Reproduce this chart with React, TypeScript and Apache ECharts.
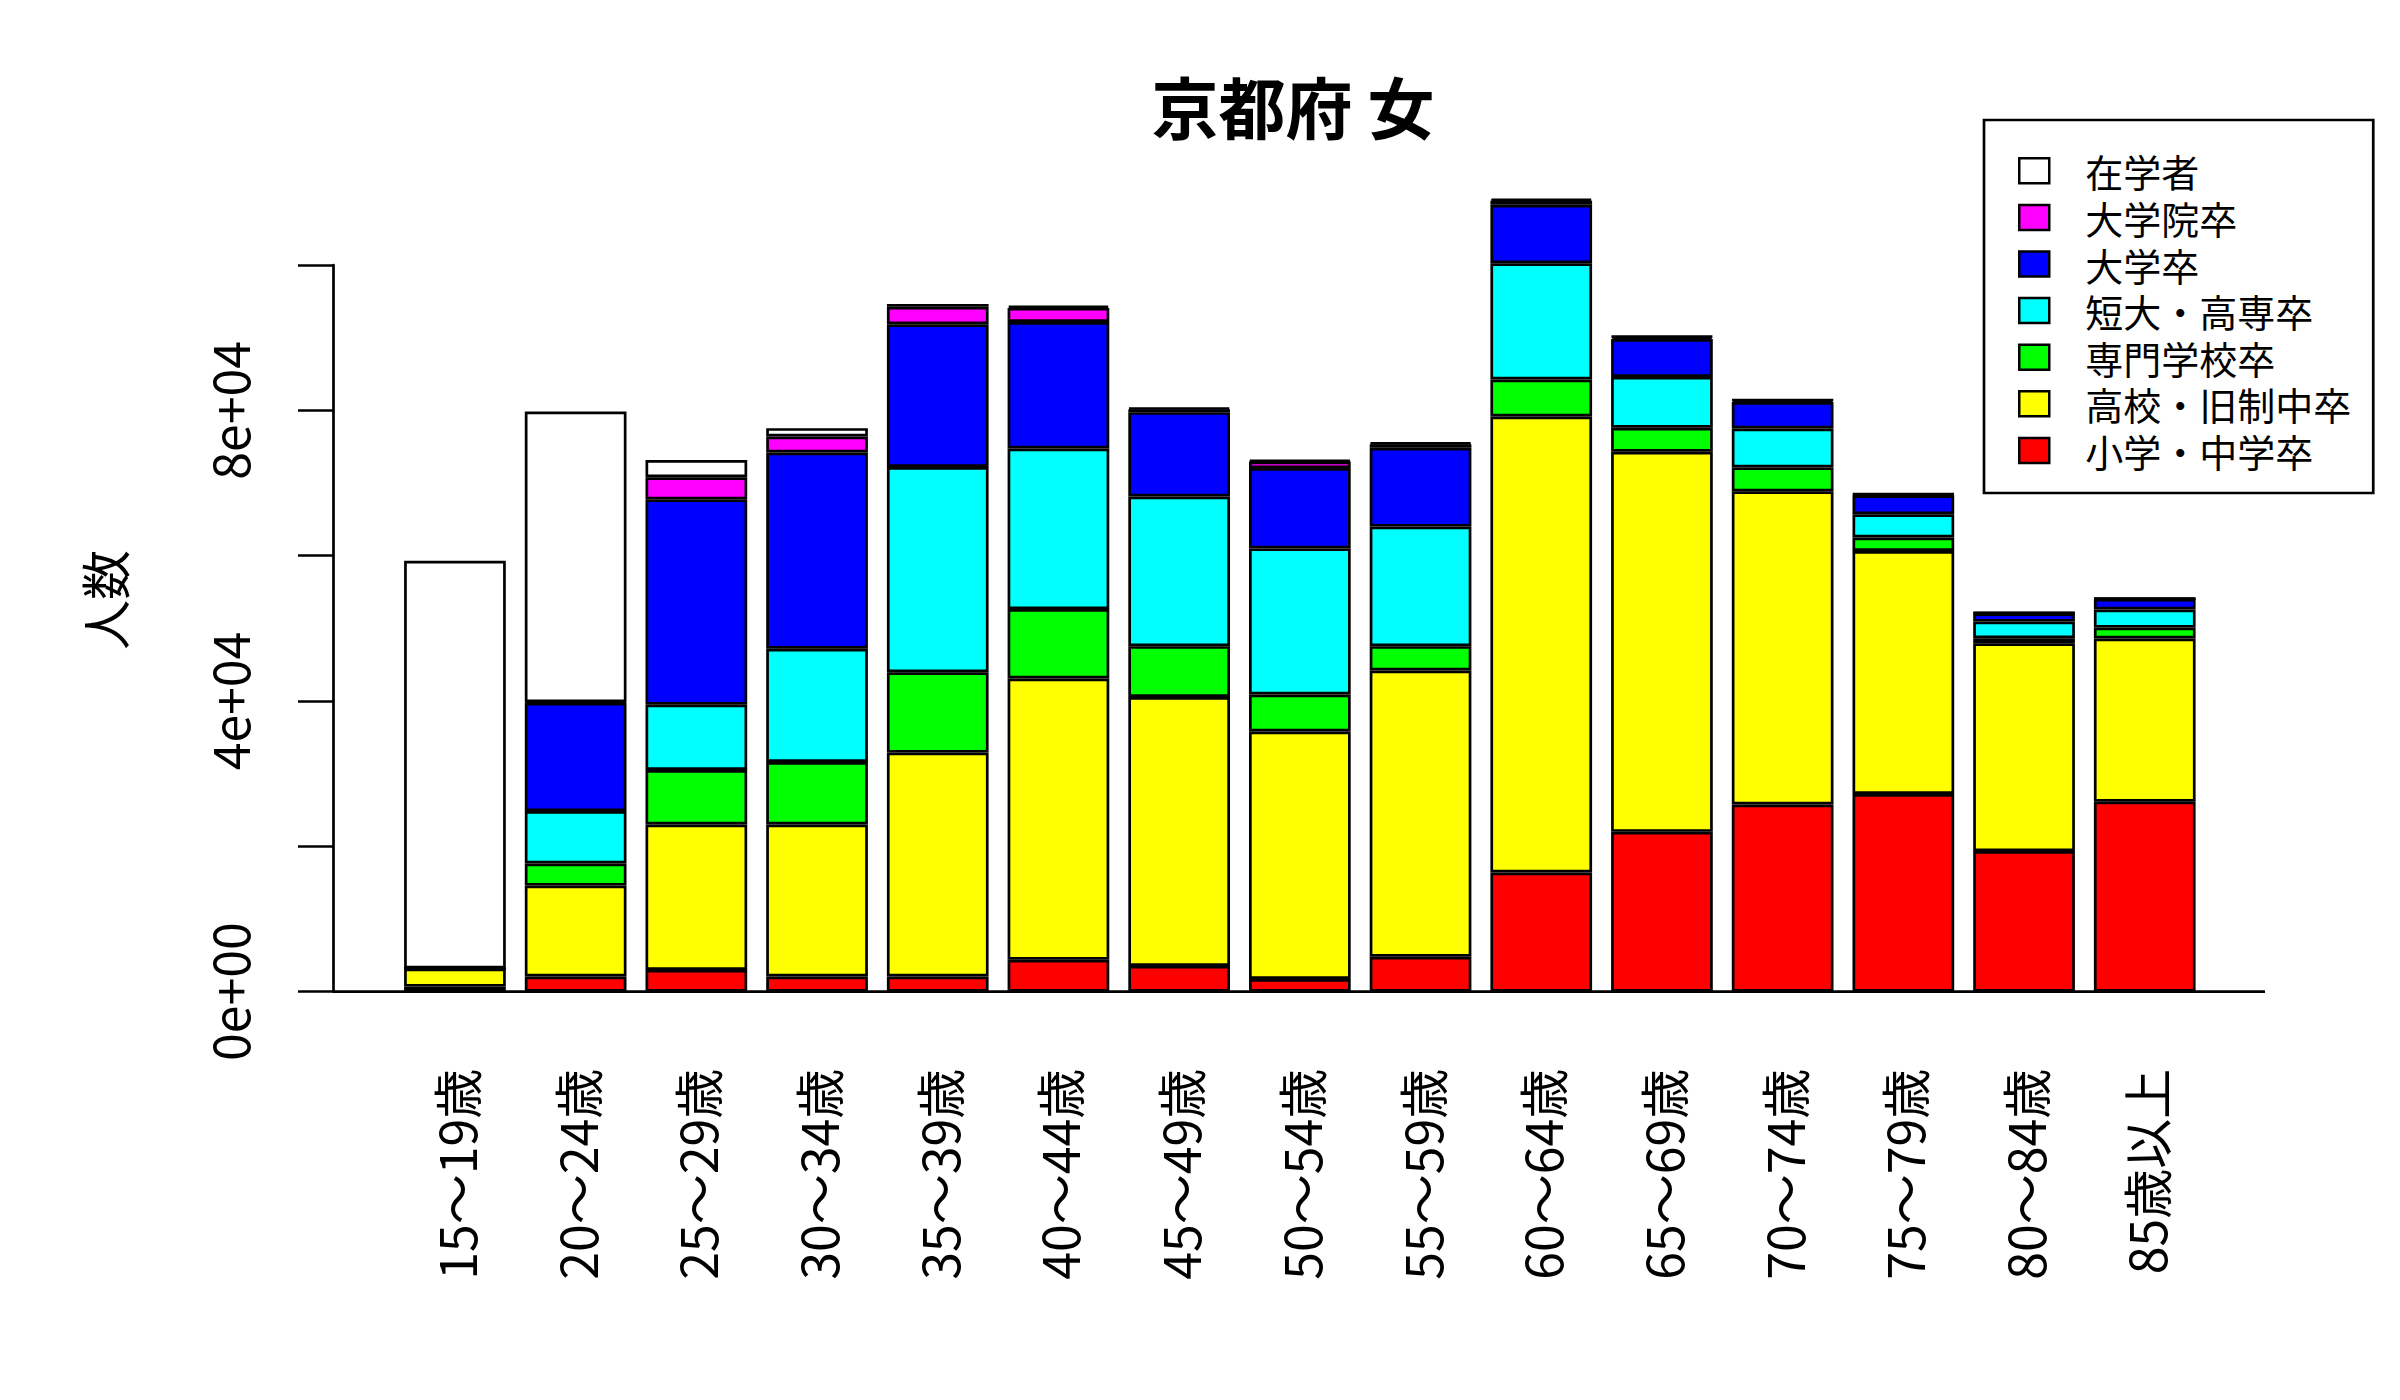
import React, { useEffect, useRef } from "react";
import * as echarts from "echarts";

const categories = [
  "15～19歳", "20～24歳", "25～29歳", "30～34歳", "35～39歳",
  "40～44歳", "45～49歳", "50～54歳", "55～59歳", "60～64歳",
  "65～69歳", "70～74歳", "75～79歳", "80～84歳", "85歳以上",
];

// stack order: bottom -> top
const elementary = [700, 2100, 3000, 2100, 2100, 4400, 3550, 1750, 4800, 16400, 22000, 25750, 27200, 19350, 26150];
const highSchool = [2500, 12500, 20000, 20900, 30800, 38700, 37000, 34050, 39400, 62750, 52300, 43100, 33450, 28600, 22450];
const vocational = [0, 3050, 7500, 8600, 11050, 9550, 7000, 5100, 3350, 5100, 3300, 3300, 1850, 700, 1500];
const juniorCollege = [0, 7200, 9000, 15600, 28250, 22100, 20600, 20100, 16450, 16000, 7000, 5350, 3200, 2280, 2500];
const university = [0, 14900, 28250, 27000, 19650, 17400, 11600, 11050, 10850, 8050, 5200, 3650, 2600, 1130, 1450];
const graduate = [0, 100, 3050, 2200, 2400, 1950, 400, 900, 500, 550, 300, 250, 150, 80, 50];
const students = [56100, 40000, 2350, 1150, 400, 300, 200, 200, 200, 250, 100, 50, 50, 20, 20];

const seriesNames = ["小学・中学卒", "高校・旧制中卒", "専門学校卒", "短大・高専卒", "大学卒", "大学院卒", "在学者"];
const seriesValues = [elementary, highSchool, vocational, juniorCollege, university, graduate, students];
const seriesColors = ["#FF0000", "#FFFF00", "#00FF00", "#00FFFF", "#0000FF", "#FF00FF", "#FFFFFF"];

const yTicks = [0, 40000, 80000];

const FONT = '"Noto Sans CJK JP", "Noto Sans", sans-serif';

function fmtExp(v: number): string {
  if (v === 0) return "0e+00";
  const e = Math.floor(Math.log10(v));
  const m = Math.round(v / Math.pow(10, e));
  return `${m}e+${String(e).padStart(2, "0")}`;
}

export default function App() {
  const ref = useRef<HTMLDivElement>(null);
  useEffect(() => {
    if (!ref.current) return;
    const chart = echarts.init(ref.current, undefined, { renderer: "svg" });
    const LW = 2.7;
    const gridTop = 265;
    const gridBottomY = 991.7;
    chart.setOption({
      animation: false,
      backgroundColor: "#ffffff",
      textStyle: { fontFamily: FONT, color: "#000" },
      grid: { left: 394.6, right: 194.9, top: gridTop, bottom: 1400 - gridBottomY, containLabel: false },
      xAxis: {
        type: "category",
        data: categories,
        axisLine: { show: false },
        axisTick: { show: false },
        splitLine: { show: false },
        axisLabel: { rotate: 90, margin: 77, fontSize: 50, color: "#000", fontFamily: FONT, interval: 0 },
      },
      yAxis: {
        type: "value",
        min: 0,
        max: 100000,
        interval: 20000,
        offset: 61.6,
        splitLine: { show: false },
        axisLine: { show: true, lineStyle: { color: "#000", width: LW } },
        axisTick: { show: true, length: 35, lineStyle: { color: "#000", width: LW } },
        axisLabel: {
          rotate: 90,
          margin: 80,
          fontSize: 50,
          color: "#000",
          fontFamily: FONT,
          formatter: (v: number) => (yTicks.indexOf(v) >= 0 ? fmtExp(v) : ""),
        },
      },
      legend: {
        orient: "vertical",
        left: 1984,
        top: 120,
        data: seriesNames.slice().reverse(),
        icon: "rect",
        itemWidth: 30,
        itemHeight: 25,
        itemGap: 8.6,
        padding: [31.8, 22, 23.6, 34],
        borderColor: "#000",
        borderWidth: LW,
        selectedMode: false,
        itemStyle: { borderColor: "#000", borderWidth: 2.5 },
        textStyle: { fontSize: 38, lineHeight: 38, color: "#000", fontFamily: FONT, padding: [0, 0, 0, 31] },
      },
      series: seriesNames.map((name, i) => ({
        name,
        type: "bar",
        stack: "total",
        data: seriesValues[i],
        barWidth: 101.7,
        clip: false,
        itemStyle: { color: seriesColors[i], borderColor: "#000", borderWidth: LW },
        emphasis: { disabled: true },
      })),
      graphic: [
        {
          type: "line",
          z: 100,
          shape: { x1: 333, y1: gridBottomY, x2: 2265, y2: gridBottomY },
          style: { stroke: "#000", lineWidth: LW },
        },
        {
          type: "text",
          x: 1293,
          y: 104,
          style: {
            text: "京都府 女",
            fontSize: 67,
            fontWeight: "bold",
            fontFamily: FONT,
            fill: "#000",
            align: "center",
            verticalAlign: "middle",
            textAlign: "center",
            textVerticalAlign: "middle",
          },
        },
        {
          type: "text",
          x: 103,
          y: 600,
          rotation: Math.PI / 2,
          style: {
            text: "人数",
            fontSize: 50,
            fontFamily: FONT,
            fill: "#000",
            align: "center",
            verticalAlign: "middle",
            textAlign: "center",
            textVerticalAlign: "middle",
          },
        },
      ],
    });
    return () => chart.dispose();
  }, []);
  return <div ref={ref} style={{ position: "fixed", left: 0, top: 0, width: 2400, height: 1400, background: "#fff" }} />;
}
